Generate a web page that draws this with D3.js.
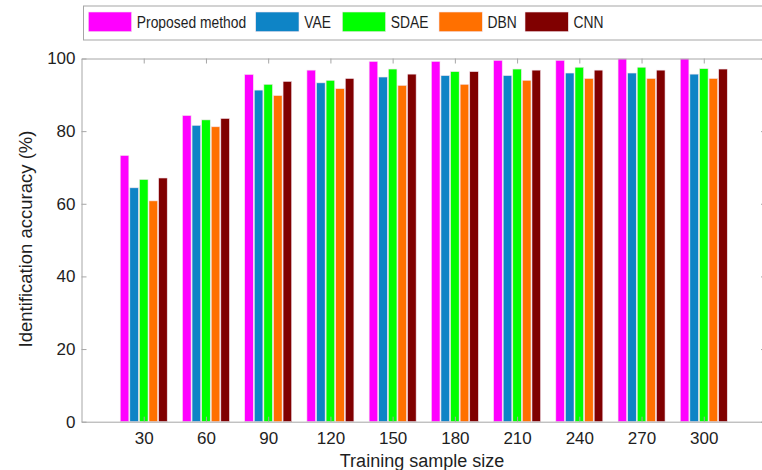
<!DOCTYPE html>
<html>
<head>
<meta charset="utf-8">
<script src="https://cdn.jsdelivr.net/npm/d3@7"></script>
<style>
  body { margin: 0; background: #fff; }
  svg { display: block; }
</style>
</head>
<body>
<div id="chart"></div>
<script>
/* Data */
const SIZES = [30, 60, 90, 120, 150, 180, 210, 240, 270, 300]
const METHODS = ["Proposed method", "VAE", "SDAE", "DBN", "CNN"]
const PROPOSED = [73.3, 84.3, 95.6, 96.8, 99.2, 99.2, 99.5, 99.5, 99.9, 99.9]
const VAE      = [64.4, 81.6, 91.3, 93.3, 94.9, 95.3, 95.3, 96.0, 96.0, 95.7]
const SDAE     = [66.7, 83.1, 92.9, 94.0, 97.1, 96.4, 97.1, 97.6, 97.6, 97.2]
const DBN      = [60.8, 81.2, 89.8, 91.7, 92.6, 92.9, 94.0, 94.5, 94.5, 94.5]
const CNN      = [67.1, 83.5, 93.7, 94.5, 95.7, 96.4, 96.8, 96.8, 96.8, 97.1]
const Y_TICKS = [0, 20, 40, 60, 80, 100]

/* Layout */
const WIDTH = 762
const HEIGHT = 470
const LEFT = 81.5
const RIGHT = 766
const TOP = 58.5
const BOTTOM = 421.7
const COLORS = ["#ff00ff", "#0e84c6", "#00ff00", "#ff7000", "#800000"]
const AXIS_COLOR = "#a6a6a6"
const TEXT_COLOR = "#1e1e1e"
const FONT = "Arial, 'Liberation Sans', sans-serif"

const series = [PROPOSED, VAE, SDAE, DBN, CNN]
const rows = []
SIZES.forEach((s, i) => {
  series.forEach((vals, k) => rows.push({size: s, method: METHODS[k], value: vals[i], k: k}))
})

const svg = d3.select("#chart")
              .append("svg")
              .attr("width", WIDTH)
              .attr("height", HEIGHT)
              .style("font-family", FONT);

const xScale = d3.scaleLinear().domain([0, 330]).range([LEFT, RIGHT]);
const yScale = d3.scaleLinear().domain([0, 100]).range([BOTTOM, TOP]);
const inner = d3.scaleBand().domain(METHODS).range([-23.5, 23.5]).paddingInner(0.1);

/* Bars */
svg.append("g")
   .selectAll("rect")
   .data(rows)
   .enter()
   .append("rect")
   .attr("x", (d) => xScale(d.size) + inner(d.method))
   .attr("y", (d) => yScale(d.value))
   .attr("width", inner.bandwidth())
   .attr("height", (d) => yScale(0) - yScale(d.value))
   .attr("fill", (d) => COLORS[d.k])
   .attr("stroke", "#f4e4ee")
   .attr("stroke-width", 0.6);

/* Axes */
const styleAxis = (g) => {
  g.select(".domain").attr("stroke", AXIS_COLOR);
  g.selectAll(".tick line").attr("stroke", AXIS_COLOR);
  g.selectAll(".tick text").attr("fill", TEXT_COLOR).style("font-size", "17px").style("font-family", FONT);
}
svg.append("g")
   .attr("transform", "translate(0," + BOTTOM + ")")
   .call(d3.axisBottom(xScale).tickValues(SIZES).tickSizeInner(-5).tickSizeOuter(0).tickPadding(10))
   .call(styleAxis);
svg.append("g")
   .attr("transform", "translate(0," + TOP + ")")
   .call(d3.axisTop(xScale).tickValues(SIZES).tickSizeInner(-5).tickSizeOuter(0).tickFormat(""))
   .call(styleAxis);
svg.append("g")
   .attr("transform", "translate(" + LEFT + ",0)")
   .call(d3.axisLeft(yScale).tickValues(Y_TICKS).tickSizeInner(-5).tickSizeOuter(0).tickPadding(6))
   .call(styleAxis);
svg.append("g")
   .attr("transform", "translate(" + RIGHT + ",0)")
   .call(d3.axisRight(yScale).tickValues(Y_TICKS).tickSizeInner(-5).tickSizeOuter(0).tickFormat(""))
   .call(styleAxis);

/* Axis titles */
svg.append("text")
   .attr("x", 422)
   .attr("y", 467)
   .attr("text-anchor", "middle")
   .attr("fill", TEXT_COLOR)
   .style("font-size", "18px")
   .text("Training sample size");
svg.append("text")
   .attr("transform", "translate(32,239) rotate(-90)")
   .attr("text-anchor", "middle")
   .attr("fill", TEXT_COLOR)
   .style("font-size", "18.5px")
   .text("Identification accuracy (%)");

/* Legend (text is horizontally condensed in the original) */
const LEGEND_X = [88.3, 255.7, 342.3, 439, 525]
const legend = svg.append("g");
legend.append("rect")
      .attr("x", 83.5)
      .attr("y", 6)
      .attr("width", 700)
      .attr("height", 34)
      .attr("fill", "#fff")
      .attr("stroke", AXIS_COLOR);
const items = legend.selectAll("g.item")
                    .data(METHODS)
                    .enter()
                    .append("g")
                    .attr("transform", (d, i) => "translate(" + LEGEND_X[i] + ",12)");
items.append("rect")
     .attr("width", 43.3)
     .attr("height", 19.7)
     .attr("fill", (d, i) => COLORS[i])
     .attr("stroke", "#f4e4ee")
     .attr("stroke-width", 0.6);
items.append("text")
     .attr("transform", "translate(48.5,16.3) scale(0.815,1)")
     .attr("fill", TEXT_COLOR)
     .style("font-size", "17px")
     .text((d) => d);
</script>
</body>
</html>
